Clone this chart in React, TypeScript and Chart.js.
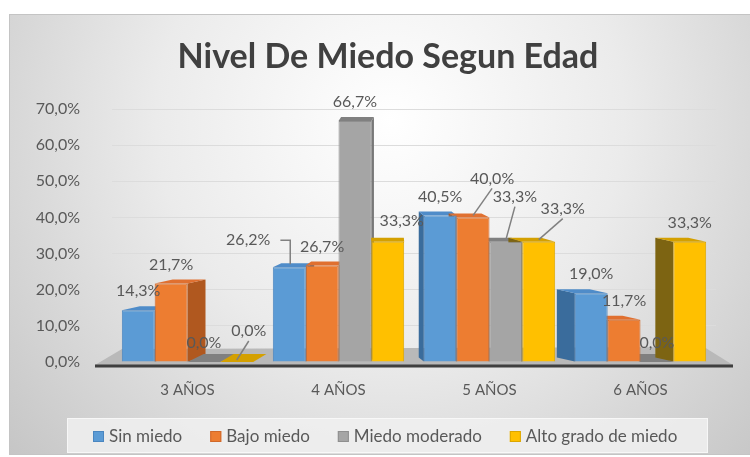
import React, { useEffect, useRef } from "react";
import { Chart, registerables } from "chart.js";

Chart.register(...registerables);

// ---- data ----
const chartTitle = "Nivel De Miedo Segun Edad";
const categories = ["3 AÑOS", "4 AÑOS", "5 AÑOS", "6 AÑOS"];
const seriesNames = ["Sin miedo", "Bajo miedo", "Miedo moderado", "Alto grado de miedo"];
const sinMiedo = [14.3, 26.2, 40.5, 19.0];
const bajoMiedo = [21.7, 26.7, 40.0, 11.7];
const miedoModerado = [0.0, 66.7, 33.3, 0.0];
const altoGrado = [0.0, 33.3, 33.3, 33.3];
const yMin = 0;
const yMax = 70;
const yStep = 10;

// ---- styles ----
const FONT = "Lato, 'Open Sans', sans-serif";
const TEXT = "#595959";
const fronts = ["#5b9bd5", "#ed7d31", "#a5a5a5", "#ffc000"];
const borders = ["#4a86c0", "#d0692a", "#8f8f8f", "#dca600"];
const sides = ["#3a6c9c", "#b0581f", "#787878", "#7d6412"];
const tops = ["#4f8cc9", "#e07030", "#808080", "#d4a000"];

// label nudges (dx, dy) and leader line type for a few crowded labels
const nudges: Record<string, [number, number, string]> = {
  "3-0": [12, -12, "line"],
  "0-1": [-41, -8, "elbow"],
  "3-1": [14, -2, ""],
  "1-2": [19, -20, "line"],
  "2-2": [9, -26, "line"],
  "3-2": [24, -14, "line"],
};

const fmt = (v: number) => v.toFixed(1).replace(".", ",") + "%";

const decorPlugin = {
  id: "decor",
  beforeDraw(chart: any) {
    const { ctx, width, height } = chart;
    ctx.save();
    ctx.fillStyle = "#ffffff";
    ctx.fillRect(0, 0, width, height);
    const g = ctx.createRadialGradient(390, 120, 0, 390, 120, 520);
    g.addColorStop(0, "#ffffff");
    g.addColorStop(0.45, "#ebebeb");
    g.addColorStop(1, "#c4c4c4");
    ctx.fillStyle = g;
    ctx.fillRect(9, 14, width - 9, 441);
    ctx.strokeStyle = "#c4c4c4";
    ctx.lineWidth = 1;
    ctx.strokeRect(9.5, 14.5, width, 440);
    // title
    ctx.fillStyle = "#404040";
    ctx.font = `bold 34px ${FONT}`;
    ctx.textAlign = "center";
    ctx.textBaseline = "alphabetic";
    ctx.fillText(chartTitle, 388, 68);
    // legend box
    ctx.fillStyle = "rgba(240,240,240,0.85)";
    ctx.fillRect(67, 418, 641, 35);
    ctx.strokeStyle = "rgba(255,255,255,0.6)";
    ctx.strokeRect(67.5, 418.5, 640, 34);
    ctx.font = `17px ${FONT}`;
    ctx.textAlign = "left";
    ctx.textBaseline = "middle";
    let x = 93;
    chart.data.datasets.forEach((ds: any) => {
      ctx.fillStyle = ds.backgroundColor;
      ctx.fillRect(x, 431, 11, 11);
      ctx.strokeStyle = ds.borderColor;
      ctx.lineWidth = 1;
      ctx.strokeRect(x + 0.5, 431.5, 10, 10);
      ctx.fillStyle = TEXT;
      ctx.fillText(ds.label, x + 16, 437);
      x += 16 + ctx.measureText(ds.label).width + 28;
    });
    ctx.restore();
  },
  beforeDatasetsDraw(chart: any) {
    const { ctx, chartArea } = chart;
    const yScale = chart.scales.y;
    const y0 = yScale.getPixelForValue(0);
    const L = chartArea.left;
    const R = chartArea.right;
    ctx.save();
    ctx.beginPath();
    ctx.moveTo(L - 17, y0 + 3);
    ctx.lineTo(R + 17, y0 + 3);
    ctx.lineTo(R - 12, y0 - 15);
    ctx.lineTo(L + 10, y0 - 13);
    ctx.closePath();
    ctx.fillStyle = "#b9b9b9";
    ctx.fill();
    ctx.strokeStyle = "#3f3f3f";
    ctx.lineWidth = 3;
    ctx.beginPath();
    ctx.moveTo(L - 17, y0 + 4);
    ctx.lineTo(R + 17, y0 + 4);
    ctx.stroke();
    const vx = L + 0.45 * (R - L);
    chart.data.datasets.forEach((_: any, di: number) => {
      const meta = chart.getDatasetMeta(di);
      meta.data.forEach((el: any) => {
        const w = el.width;
        const left = el.x - w / 2;
        const right = el.x + w / 2;
        const top = el.y;
        const bottom = el.base;
        const flat = bottom - top <= 0.5;
        const d = flat ? 8 : 4;
        const dist = vx - el.x;
        const sx = Math.sign(dist) * Math.min(18, Math.abs(dist) * 0.09);
        const edge = sx > 0 ? right : left;
        if (!flat) {
          ctx.beginPath();
          ctx.moveTo(edge, top);
          ctx.lineTo(edge + sx, top - d);
          ctx.lineTo(edge + sx, bottom - d);
          ctx.lineTo(edge, bottom);
          ctx.closePath();
          ctx.fillStyle = sides[di];
          ctx.fill();
        }
        ctx.beginPath();
        ctx.moveTo(left, top);
        ctx.lineTo(right, top);
        ctx.lineTo(right + sx, top - d);
        ctx.lineTo(left + sx, top - d);
        ctx.closePath();
        ctx.fillStyle = tops[di];
        ctx.fill();
      });
    });
    ctx.restore();
  },
  afterDatasetsDraw(chart: any) {
    const { ctx } = chart;
    ctx.save();
    ctx.font = `16px ${FONT}`;
    ctx.textAlign = "center";
    ctx.textBaseline = "middle";
    chart.data.datasets.forEach((ds: any, di: number) => {
      const meta = chart.getDatasetMeta(di);
      meta.data.forEach((el: any, i: number) => {
        const v = ds.data[i] as number;
        const n = nudges[`${di}-${i}`] || [0, 0, ""];
        const lx = el.x + n[0];
        const ly = el.y - 19 + n[1];
        const text = fmt(v);
        if (n[2]) {
          ctx.strokeStyle = "#808080";
          ctx.lineWidth = 1.5;
          ctx.beginPath();
          if (n[2] === "elbow") {
            const tw = ctx.measureText(text).width;
            ctx.moveTo(lx + tw / 2 + 10, ly);
            ctx.lineTo(el.x + 1, ly);
            ctx.lineTo(el.x + 1, el.y - 3);
          } else {
            ctx.moveTo(lx, ly + 10);
            ctx.lineTo(el.x, el.y - 2);
          }
          ctx.stroke();
        }
        ctx.fillStyle = TEXT;
        ctx.fillText(text, lx, ly);
      });
    });
    ctx.restore();
  },
};

export default function App() {
  const ref = useRef<HTMLCanvasElement>(null);
  useEffect(() => {
    const canvas = ref.current;
    if (!canvas) return;
    const values = [sinMiedo, bajoMiedo, miedoModerado, altoGrado];
    const chart = new Chart(canvas, {
      type: "bar",
      data: {
        labels: categories,
        datasets: values.map((data, i) => ({
          label: seriesNames[i],
          data,
          backgroundColor: fronts[i],
          borderColor: borders[i],
          borderWidth: 1,
          categoryPercentage: 0.87,
          barPercentage: 1,
        })),
      },
      options: {
        responsive: false,
        maintainAspectRatio: false,
        animation: false,
        layout: { padding: { left: 0, right: 34, top: 109, bottom: 0 } },
        plugins: {
          legend: { display: false },
          title: { display: false },
          tooltip: { enabled: false },
        },
        scales: {
          x: {
            grid: { display: false, drawTicks: false },
            border: { display: false },
            ticks: { color: TEXT, font: { family: FONT, size: 15 }, padding: 19 },
            afterFit: (s: any) => {
              s.height = 95;
            },
          },
          y: {
            min: yMin,
            max: yMax,
            grid: { color: "#dcdcdc", lineWidth: 1, drawTicks: false },
            border: { display: false },
            ticks: {
              stepSize: yStep,
              color: TEXT,
              font: { family: FONT, size: 16 },
              padding: 32,
              callback: (v: any) => fmt(Number(v)),
            },
            afterFit: (s: any) => {
              s.width = 112;
            },
          },
        },
      },
      plugins: [decorPlugin],
    } as any);
    return () => chart.destroy();
  }, []);
  return (
    <div style={{ position: "fixed", left: 0, top: 0, width: 750, height: 457 }}>
      <canvas ref={ref} width={750} height={457} style={{ display: "block" }} />
    </div>
  );
}
